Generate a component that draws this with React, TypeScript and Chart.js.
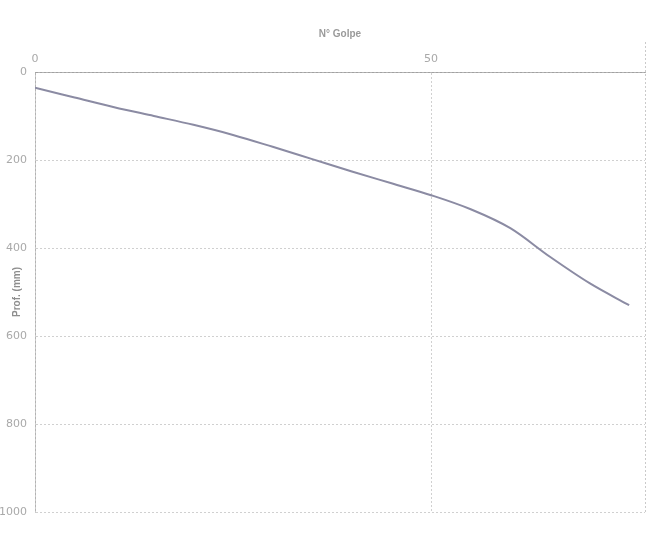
import React, { useEffect, useRef } from "react";
import { Chart, registerables } from "chart.js";

Chart.register(...registerables);

// Blow count (N° Golpe) against penetration depth in mm
const blows = [0, 5, 10, 15, 20, 25, 30, 35, 40, 45, 50, 55, 60, 65, 70, 75];
const depthMm = [36, 58, 80, 100, 120, 143, 170, 198, 226, 253, 280, 312, 355, 420, 480, 530];
const depthTicks = [0, 200, 400, 600, 800, 1000];
const blowTicks = [0, 50];
const depthTitle = "Prof. (mm)";

// Rotated y-axis title over the label column, plus a dotted right frame edge
const framePlugin = {
  id: "frameExtras",
  afterDraw(chart: any) {
    const ctx = chart.ctx;
    const area = chart.chartArea;
    ctx.save();
    ctx.strokeStyle = "rgba(150,150,150,0.5)";
    ctx.lineWidth = 1;
    ctx.setLineDash([2, 2]);
    ctx.beginPath();
    ctx.moveTo(area.right + 0.5, area.top - 30);
    ctx.lineTo(area.right + 0.5, area.bottom);
    ctx.stroke();
    ctx.setLineDash([]);
    ctx.translate(17, (area.top + area.bottom) / 2);
    ctx.rotate(-Math.PI / 2);
    ctx.fillStyle = "#8e8e8e";
    ctx.font = "bold 10px 'Liberation Sans'";
    ctx.textAlign = "center";
    ctx.textBaseline = "middle";
    ctx.fillText(depthTitle, 0, 0);
    ctx.restore();
  },
};

export default function App() {
  const canvasRef = useRef<HTMLCanvasElement | null>(null);

  useEffect(() => {
    document.body.style.margin = "0";
    const canvas = canvasRef.current;
    if (!canvas) return;
    const gridColor = "rgba(150,150,150,0.45)";
    const textColor = "#a9a9a9";
    const chart = new Chart(canvas, {
      type: "line",
      data: {
        datasets: [
          {
            data: blows.map((b, i) => ({ x: b, y: depthMm[i] })),
            borderColor: "#8b8ba3",
            borderWidth: 2,
            pointRadius: 0,
            cubicInterpolationMode: "monotone",
            fill: false,
          },
        ],
      },
      options: {
        animation: false,
        responsive: false,
        maintainAspectRatio: false,
        layout: { padding: { left: 0, right: 17, top: 0, bottom: 25 } },
        plugins: { legend: { display: false }, tooltip: { enabled: false } },
        scales: {
          x: {
            type: "linear",
            position: "top",
            min: 0,
            max: 77,
            afterBuildTicks: (axis: any) => {
              axis.ticks = blowTicks.map((v) => ({ value: v }));
            },
            afterFit: (axis: any) => {
              axis.height = 72;
            },
            title: {
              display: true,
              text: "N° Golpe",
              color: "#9a9a9a",
              font: { family: "Liberation Sans", size: 10, weight: "bold" },
              padding: { top: 28, bottom: 4 },
            },
            ticks: {
              color: textColor,
              font: { family: "DejaVu Sans", size: 11 },
              padding: 6,
              callback: (v: any) => String(v),
            },
            grid: {
              color: gridColor,
              drawTicks: false,
              lineWidth: 1,
            },
            border: { display: true, color: "rgba(130,130,130,0.6)", dash: [2, 2] },
          },
          y: {
            type: "linear",
            reverse: true,
            min: 0,
            max: 1000,
            afterBuildTicks: (axis: any) => {
              axis.ticks = depthTicks.map((v) => ({ value: v }));
            },
            afterFit: (axis: any) => {
              axis.width = 35;
            },
            ticks: {
              color: textColor,
              font: { family: "DejaVu Sans", size: 11 },
              padding: 8,
              callback: (v: any) => String(v),
            },
            grid: {
              color: gridColor,
              drawTicks: false,
              lineWidth: 1,
            },
            border: { display: true, color: "rgba(150,150,150,0.5)", dash: [2, 2] },
          },
        },
      },
      plugins: [framePlugin],
    } as any);
    return () => chart.destroy();
  }, []);

  return (
    <div style={{ width: 662, height: 537, background: "#ffffff" }}>
      <canvas ref={canvasRef} width={662} height={537} />
    </div>
  );
}
